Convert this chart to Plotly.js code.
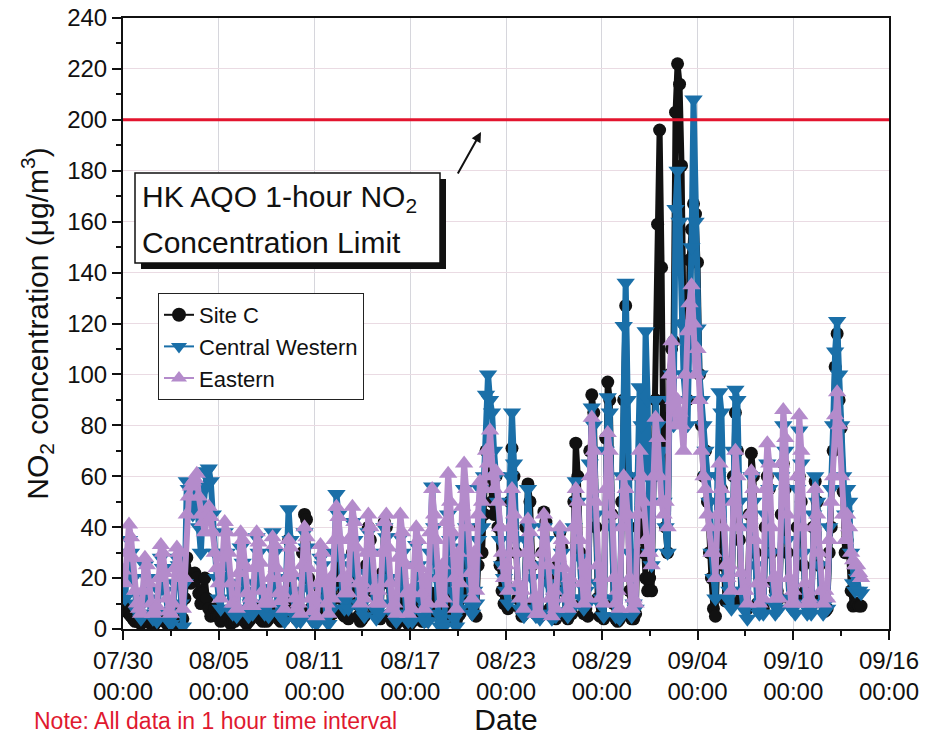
<!DOCTYPE html>
<html>
<head>
<meta charset="utf-8">
<script src="https://cdn.plot.ly/plotly-3.0.1.min.js"></script>
<style>
  html, body { margin: 0; padding: 0; background: #ffffff; }
  #chart { width: 925px; height: 736px; }
</style>
</head>
<body>
<div id="chart"></div>
<script>
// ---- data (one reading every 3 hours) ----
const startTime = '2013-07-30 00:00';
const stepHours = 3;
const seriesNames = ['Site C', 'Central Western', 'Eastern'];

const siteC = [
  10, 9, 8, 6, 5, 4, 3, 3,
  3, 2, 4, 5, 4, 3, 2, 3,
  2, 3, 4, 5, 4, 3, 2, 2,
  3, 2, 5, 6, 4, 2, 4, 12,
  28, 22, 18, 20, 22, 20, 14, 10,
  14, 20, 12, 8, 5, 6, 8, 5,
  5, 3, 4, 6, 5, 4, 2, 3,
  3, 4, 5, 6, 4, 3, 2, 3,
  4, 5, 7, 8, 6, 4, 3, 4,
  3, 4, 6, 7, 6, 5, 4, 3,
  5, 4, 12, 35, 20, 8, 5, 4,
  6, 5, 30, 45, 43, 20, 8, 5,
  3, 4, 8, 15, 10, 6, 4, 4,
  10, 6, 18, 30, 22, 12, 6, 5,
  6, 4, 18, 30, 22, 10, 5, 3,
  4, 5, 25, 40, 35, 15, 8, 6,
  5, 4, 22, 42, 40, 18, 6, 3,
  3, 2, 6, 10, 8, 5, 3, 2,
  2, 3, 8, 12, 8, 5, 3, 3,
  4, 5, 10, 14, 12, 8, 6, 6,
  6, 4, 12, 20, 15, 8, 4, 3,
  5, 6, 15, 25, 20, 12, 8, 8,
  6, 5, 25, 40, 30, 45, 70, 60,
  68, 50, 45, 60, 40, 25, 15, 10,
  10, 8, 50, 71, 60, 30, 12, 8,
  5, 6, 40, 57, 50, 25, 10, 6,
  8, 5, 30, 46, 42, 20, 8, 5,
  6, 4, 25, 38, 32, 15, 6, 4,
  10, 6, 50, 73, 60, 30, 10, 6,
  8, 5, 70, 92, 85, 40, 12, 5,
  10, 4, 75, 97, 90, 45, 10, 4,
  3, 4, 50, 90, 127, 60, 15, 4,
  4, 6, 40, 60, 50, 30, 20, 15,
  20, 15, 60, 90, 159, 196, 142, 60,
  40, 30, 100, 110, 113, 203, 222, 214,
  182, 120, 100, 90, 145, 157, 167, 163,
  144, 100, 80, 60, 70, 50, 30, 20,
  8, 5, 30, 60, 55, 25, 11, 11,
  11, 10, 60, 85, 70, 35, 12, 10,
  10, 8, 45, 69, 60, 30, 10, 7,
  7, 8, 40, 60, 55, 30, 18, 15,
  15, 12, 45, 65, 55, 30, 12, 10,
  10, 12, 40, 60, 50, 25, 15, 12,
  8, 9, 40, 58, 50, 25, 12, 10,
  7, 8, 30, 40, 70, 103, 116, 90,
  79, 54, 30, 35, 30, 15, 9, 10,
  10, 9, 9
];

const centralWestern = [
  18, 12, 22, 35, 30, 20, 10, 7,
  6, 4, 12, 25, 20, 12, 6, 4,
  5, 3, 15, 28, 24, 15, 7, 3,
  2, 6, 18, 28, 25, 10, 1, 18,
  58, 55, 50, 45, 52, 56, 40, 30,
  45, 55, 62, 63, 58, 45, 30, 20,
  12, 8, 20, 38, 30, 18, 8, 6,
  8, 5, 15, 32, 26, 15, 7, 5,
  10, 6, 18, 36, 30, 16, 8, 6,
  9, 5, 16, 38, 30, 14, 6, 5,
  6, 3, 20, 47, 35, 15, 5, 3,
  4, 3, 20, 38, 32, 16, 5, 3,
  4, 2, 12, 28, 25, 12, 4, 2,
  15, 8, 30, 53, 45, 28, 12, 8,
  12, 8, 25, 42, 35, 22, 10, 8,
  10, 5, 22, 38, 30, 18, 8, 4,
  8, 6, 20, 40, 36, 20, 10, 6,
  5, 3, 18, 36, 30, 15, 6, 3,
  6, 3, 15, 33, 25, 12, 6, 3,
  8, 3, 30, 56, 40, 20, 6, 1,
  2, 1, 20, 45, 35, 15, 4, 1,
  12, 8, 32, 55, 40, 22, 10, 6,
  15, 10, 35, 55, 40, 60, 92, 100,
  90, 85, 70, 60, 50, 35, 25, 20,
  15, 10, 60, 85, 65, 35, 15, 8,
  8, 5, 35, 55, 40, 20, 8, 5,
  6, 4, 25, 40, 35, 18, 6, 4,
  10, 5, 22, 38, 30, 15, 7, 5,
  12, 8, 40, 58, 50, 28, 12, 8,
  15, 10, 65, 87, 80, 45, 18, 10,
  12, 5, 70, 91, 85, 40, 12, 5,
  5, 4, 60, 119, 136, 90, 30, 5,
  10, 8, 60, 95, 80, 60, 117, 90,
  30, 25, 60, 90, 80, 60, 70, 50,
  40, 30, 90, 100, 80, 165, 180, 160,
  120, 100, 90, 80, 118, 150, 208, 160,
  118, 100, 90, 80, 70, 60, 50, 30,
  20, 12, 60, 93, 85, 50, 20, 12,
  15, 8, 70, 94, 90, 50, 15, 8,
  8, 4, 40, 60, 50, 25, 8, 6,
  10, 6, 45, 65, 55, 30, 10, 6,
  12, 8, 60, 80, 70, 35, 12, 8,
  8, 6, 55, 78, 65, 30, 10, 6,
  7, 6, 45, 60, 50, 25, 10, 6,
  10, 8, 40, 55, 80, 109, 121, 100,
  80, 60, 45, 55, 50, 30, 18, 15,
  20, 15, 14
];

const eastern = [
  23, 18, 30, 41, 36, 28, 15, 10,
  8, 6, 15, 28, 25, 18, 10, 6,
  7, 9, 20, 33, 30, 22, 12, 7,
  6, 10, 24, 32, 30, 20, 8, 20,
  45, 52, 56, 58, 59, 61, 52, 45,
  42, 38, 45, 48, 44, 38, 30, 24,
  18, 12, 28, 42, 38, 30, 18, 10,
  10, 8, 22, 38, 35, 25, 14, 9,
  12, 9, 24, 38, 34, 26, 15, 10,
  12, 10, 20, 36, 33, 24, 14, 11,
  14, 8, 20, 35, 32, 22, 12, 8,
  10, 6, 25, 40, 36, 24, 12, 7,
  12, 5, 18, 33, 30, 20, 10, 6,
  20, 12, 35, 48, 44, 35, 20, 14,
  20, 14, 36, 48, 42, 32, 18, 10,
  18, 12, 30, 45, 40, 30, 16, 10,
  15, 10, 30, 42, 45, 32, 18, 8,
  10, 6, 28, 45, 38, 26, 14, 6,
  15, 8, 25, 40, 35, 24, 14, 8,
  20, 10, 38, 55, 45, 35, 20, 10,
  25, 12, 42, 61, 50, 38, 20, 8,
  30, 18, 48, 65, 55, 40, 22, 12,
  30, 15, 45, 58, 50, 55, 70, 65,
  78, 60, 55, 62, 50, 40, 30, 20,
  25, 15, 40, 55, 45, 30, 18, 12,
  15, 8, 30, 43, 38, 25, 12, 6,
  12, 6, 30, 45, 40, 25, 12, 5,
  15, 8, 28, 40, 35, 24, 12, 8,
  20, 10, 40, 55, 50, 35, 18, 10,
  25, 12, 60, 83, 70, 50, 25, 12,
  20, 10, 55, 77, 70, 45, 20, 10,
  15, 8, 40, 60, 55, 45, 20, 8,
  12, 10, 45, 70, 60, 50, 35, 30,
  30, 25, 60, 83, 75, 60, 50, 45,
  50, 40, 100, 113, 90, 80, 90, 85,
  80, 70, 100, 117, 128, 135, 120, 100,
  110, 90, 70, 60, 55, 45, 40, 30,
  30, 20, 45, 65, 55, 40, 25, 20,
  25, 15, 50, 70, 60, 40, 22, 15,
  15, 10, 45, 62, 55, 35, 18, 10,
  18, 12, 55, 73, 65, 40, 20, 12,
  20, 12, 65, 86, 75, 45, 20, 10,
  15, 10, 60, 84, 70, 40, 18, 10,
  12, 10, 40, 55, 45, 30, 15, 10,
  15, 12, 35, 50, 60, 84, 93, 80,
  60, 45, 35, 45, 40, 30, 27, 25,
  25, 22, 20
];

const limitValue = 200;
const xRange = ['2013-07-30 00:00', '2013-09-16 00:00'];
const xTickVals = ['2013-07-30', '2013-08-05', '2013-08-11', '2013-08-17', '2013-08-23',
                   '2013-08-29', '2013-09-04', '2013-09-10', '2013-09-16'];
const xTickText = ['07/30<br>00:00', '08/05<br>00:00', '08/11<br>00:00', '08/17<br>00:00', '08/23<br>00:00',
                   '08/29<br>00:00', '09/04<br>00:00', '09/10<br>00:00', '09/16<br>00:00'];
const yTickVals = [0, 20, 40, 60, 80, 100, 120, 140, 160, 180, 200, 220, 240];

// ---- time stamps (one per reading) ----
function stamp(i) {
  const t0 = Date.parse(startTime.replace(' ', 'T') + ':00Z');
  const d = new Date(t0 + i * stepHours * 3600000);
  return d.toISOString().slice(0, 16).replace('T', ' ');
}
const times = siteC.map((_, i) => stamp(i));

const FONT = 'Liberation Sans, Arial, Helvetica, sans-serif';
const colors = ['#111111', '#1a6fa8', '#b48bcb'];
const symbols = ['circle', 'triangle-down', 'triangle-up'];
const sizes = [13, 16, 16];
const seriesValues = [siteC, centralWestern, eastern];

// dense hourly-style look: thick connecting band + markers (legend uses thin proxies)
const traces = [];
seriesValues.forEach((vals, k) => {
  traces.push({
    x: times, y: vals, name: seriesNames[k], type: 'scatter', mode: 'lines+markers',
    showlegend: false,
    line: { color: colors[k], width: 6 },
    marker: { symbol: symbols[k], size: sizes[k], color: colors[k] }
  });
});
seriesValues.forEach((vals, k) => {
  traces.push({
    x: [null], y: [null], name: seriesNames[k], type: 'scatter', mode: 'lines+markers',
    showlegend: true,
    line: { color: colors[k], width: 2 },
    marker: { symbol: symbols[k], size: 14, color: colors[k] }
  });
});

// pixel helpers for layout placement (plot area 123..889 x 18..629)
const px = v => (v - 123) / 766;
const py = v => (629 - v) / 611;

const layout = {
  width: 925, height: 736,
  margin: { l: 123, r: 36, t: 18, b: 107 },
  paper_bgcolor: '#ffffff', plot_bgcolor: '#ffffff',
  font: { family: FONT, color: '#111111', size: 24 },
  showlegend: true,
  legend: {
    x: px(158), y: py(293), xanchor: 'left', yanchor: 'top',
    bgcolor: '#ffffff', bordercolor: '#222222', borderwidth: 1,
    font: { family: FONT, size: 22, color: '#111111' },
    tracegroupgap: 0
  },
  xaxis: {
    type: 'date', range: xRange,
    tickvals: xTickVals, ticktext: xTickText,
    ticks: 'outside', ticklen: 9, tickwidth: 2, tickcolor: '#111111',
    tickfont: { family: FONT, size: 24, color: '#111111' },
    showline: true, linewidth: 2, linecolor: '#111111', mirror: true,
    showgrid: true, gridcolor: '#d6d6dc', gridwidth: 1,
    minor: { dtick: 3 * 86400000, tick0: '2013-07-30', ticks: 'outside', ticklen: 5, tickwidth: 2, tickcolor: '#111111', showgrid: false },
    zeroline: false,
    title: { text: 'Date', font: { family: FONT, size: 30, color: '#111111' }, standoff: 4 }
  },
  yaxis: {
    range: [0, 240], tickvals: yTickVals,
    ticks: 'outside', ticklen: 9, tickwidth: 2, tickcolor: '#111111',
    tickfont: { family: FONT, size: 24, color: '#111111' },
    showline: true, linewidth: 2, linecolor: '#111111', mirror: true,
    showgrid: true, gridcolor: '#eadbe3', gridwidth: 1,
    minor: { dtick: 10, ticks: 'outside', ticklen: 5, tickwidth: 2, tickcolor: '#111111', showgrid: false },
    zeroline: false,
    title: { text: 'NO<sub>2</sub> concentration (μg/m<sup>3</sup>)', font: { family: FONT, size: 30, color: '#111111' }, standoff: 10 }
  },
  shapes: [
    { type: 'line', xref: 'paper', x0: 0, x1: 1, yref: 'y', y0: limitValue, y1: limitValue,
      line: { color: '#e3142e', width: 3 }, layer: 'above' },
    { type: 'rect', xref: 'paper', yref: 'paper', x0: px(141), x1: px(446), y0: py(269), y1: py(179),
      fillcolor: '#111111', line: { width: 0 }, layer: 'above' },
    { type: 'rect', xref: 'paper', yref: 'paper', x0: px(135), x1: px(440), y0: py(263), y1: py(173),
      fillcolor: '#ffffff', line: { color: '#111111', width: 1.5 }, layer: 'above' }
  ],
  annotations: [
    { xref: 'paper', yref: 'paper', x: px(140), y: py(198), xanchor: 'left', yanchor: 'middle',
      text: 'HK AQO 1-hour NO<sub>2</sub>', showarrow: false,
      font: { family: FONT, size: 30, color: '#111111' } },
    { xref: 'paper', yref: 'paper', x: px(140), y: py(242), xanchor: 'left', yanchor: 'middle',
      text: 'Concentration Limit', showarrow: false,
      font: { family: FONT, size: 30, color: '#111111' } },
    { xref: 'paper', yref: 'paper', x: px(481), y: py(132), text: '',
      showarrow: true, arrowhead: 2, arrowsize: 1, arrowwidth: 2, arrowcolor: '#111111',
      ax: -24, ay: 43 },
    { xref: 'paper', yref: 'paper', x: px(32), y: py(721), xanchor: 'left', yanchor: 'middle',
      text: 'Note: All data in 1 hour time interval', showarrow: false,
      font: { family: FONT, size: 23, color: '#e0192f' } }
  ]
};

Plotly.newPlot('chart', traces, layout, { displayModeBar: false, staticPlot: true });
</script>
</body>
</html>
